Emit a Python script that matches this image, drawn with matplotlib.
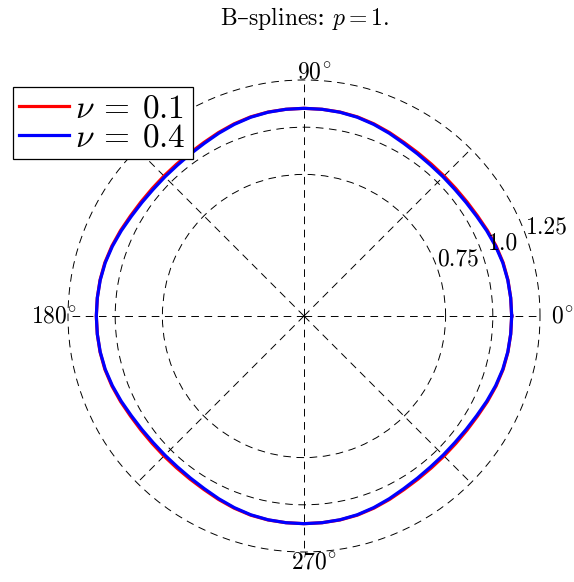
import numpy as np
import matplotlib
matplotlib.use('Agg')
import matplotlib.pyplot as plt

plt.rcParams['font.family'] = ['cmr10', 'DejaVu Serif']
plt.rcParams['mathtext.fontset'] = 'cm'
plt.rcParams['axes.formatter.use_mathtext'] = True
plt.rcParams['lines.scale_dashes'] = False

# one octant (0..45 deg), the rest follows from the square symmetry of the grid
octant_deg = [0, 5, 10, 15, 20, 25, 30, 35, 40, 45]
r_nu01 = [1.100, 1.099, 1.097, 1.092, 1.083, 1.072, 1.061, 1.054, 1.050, 1.049]
r_nu04 = [1.100, 1.099, 1.096, 1.090, 1.080, 1.068, 1.056, 1.048, 1.043, 1.042]
labels = [r'$\nu\:=\:0.1$', r'$\nu\:=\:0.4$']
colors = ['red', 'blue']

r_ticks = [0.75, 1.0, 1.25]
r_ticklabels = ['0.75', '1.0', '1.25']
theta_ticklabels = [r'$0^{\!\circ}$', r'$90^{\!\circ}$', r'$180^{\!\circ}$', r'$270^{\!\circ}$']


def full_circle(deg, r):
    deg = np.array(deg, dtype=float)
    r = np.array(r, dtype=float)
    q_deg = np.concatenate([deg, 90 - deg[::-1][1:]])
    q_r = np.concatenate([r, r[::-1][1:]])
    all_deg = np.concatenate([q_deg[:-1] + 90 * k for k in range(4)] + [[360.0]])
    all_r = np.concatenate([q_r[:-1]] * 4 + [[q_r[0]]])
    return np.deg2rad(all_deg), all_r


fig = plt.figure(figsize=(5.74, 5.82), dpi=100)
ax = fig.add_axes([68 / 574, 30 / 582, 472 / 574, 472 / 582], projection='polar')

lines = []
for r_vals, lab, c in zip([r_nu01, r_nu04], labels, colors):
    th, rr = full_circle(octant_deg, r_vals)
    ln, = ax.plot(th, rr, color=c, lw=2.3, label=lab)
    lines.append(ln)

ax.set_ylim(0, 1.25)
ax.set_thetagrids(range(0, 360, 45), labels=[])
ax.set_rgrids(r_ticks, labels=[])
ax.spines['polar'].set_visible(False)
ax.grid(True, color='black', lw=0.7, linestyle=(0, (5.5, 4)))
ax.tick_params(length=0)
for gl in ax.yaxis.get_gridlines() + ax.xaxis.get_gridlines():
    gl.set_clip_on(False)

# radial labels
for v, lab in zip(r_ticks, r_ticklabels):
    ax.text(np.deg2rad(20), v + 0.12, lab, ha='center', va='center', fontsize=17)

# angle labels
theta_pos = [(0.0, 1.367), (87.65, 1.293), (180.0, 1.324), (272.3, 1.304)]
for (t, rpos), lab in zip(theta_pos, theta_ticklabels):
    ax.text(np.deg2rad(t), rpos, lab, ha='center', va='center', fontsize=17)

fig.text(305 / 574, 1 - 18 / 582, r'$\mathrm{B}$–$\mathrm{splines}$: $p=1.$',
         ha='center', va='center', fontsize=17, family='DejaVu Serif')

leg = fig.legend(handles=lines, loc='upper left',
                 bbox_to_anchor=(12.7 / 574, 1 - 87.3 / 582),
                 fontsize=24, fancybox=False, framealpha=1, edgecolor='black',
                 borderpad=0.2, handlelength=1.5, handletextpad=0.18,
                 labelspacing=0.0, borderaxespad=0)
leg.get_frame().set_linewidth(0.9)

fig.savefig('out.png', dpi=100)
